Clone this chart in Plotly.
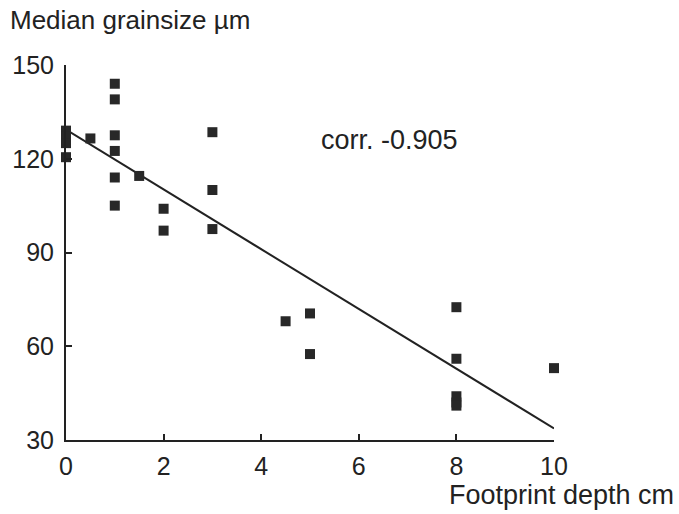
import plotly.graph_objects as go

# Footprint depth (cm) and median grain size (µm) of the sampled prints
depth_cm = [0, 0, 0, 0, 0.5, 1, 1, 1, 1, 1, 1, 1.5, 2, 2, 3, 3, 3,
            4.5, 5, 5, 8, 8, 8, 8, 8, 10]
grainsize_um = [129, 127, 125, 120.5, 126.5, 144, 139, 127.5, 122.5, 114, 105,
                114.5, 104, 97, 128.5, 110, 97.5, 68, 70.5, 57.5,
                72.5, 56, 44, 42, 41, 53]

# Fitted straight line: grainsize = intercept + slope * depth
fit_intercept = 129.3
fit_slope = -9.56
fit_x = [0, 10]
fit_y = [fit_intercept + fit_slope * x for x in fit_x]
corr_label = "corr. -0.905"

x_ticks = [0, 2, 4, 6, 8, 10]
y_ticks = [30, 60, 90, 120, 150]

FONT = "Liberation Sans, Arial, Helvetica, sans-serif"
INK = "#222222"

fig = go.Figure()

fig.add_trace(go.Scatter(
    x=fit_x, y=fit_y, mode="lines",
    line=dict(color=INK, width=2),
    hoverinfo="skip", showlegend=False,
))

fig.add_trace(go.Scatter(
    x=depth_cm, y=grainsize_um, mode="markers",
    marker=dict(symbol="square", size=10, color="#282828",
                line=dict(width=0)),
    cliponaxis=False, showlegend=False,
))

fig.add_annotation(
    x=6.63, y=126, xref="x", yref="y", text=corr_label, showarrow=False,
    font=dict(family=FONT, size=27, color=INK), xanchor="center", yanchor="middle",
)
fig.add_annotation(
    x=-0.119, y=1.12, xref="paper", yref="paper", text="Median grainsize µm",
    showarrow=False, font=dict(family=FONT, size=26, color=INK),
    xanchor="left", yanchor="middle",
)
fig.add_annotation(
    x=0.781, y=-0.147, xref="paper", yref="paper", text="Footprint depth cm",
    showarrow=False, font=dict(family=FONT, size=27, color=INK),
    xanchor="left", yanchor="middle",
)

axis_common = dict(
    showline=True, linecolor=INK, linewidth=2, mirror=False,
    ticks="inside", ticklen=6, tickwidth=2, tickcolor=INK,
    showgrid=False, zeroline=False,
    tickfont=dict(family=FONT, size=25, color=INK),
)

fig.update_xaxes(range=[0, 10], tickvals=x_ticks, ticklabelstandoff=3, **axis_common)
fig.update_yaxes(range=[30, 150], tickvals=y_ticks, ticklabelstandoff=5, **axis_common)

fig.update_layout(
    width=679, height=514,
    margin=dict(l=66, r=125, t=65, b=74),
    paper_bgcolor="white", plot_bgcolor="white",
    font=dict(family=FONT, color=INK),
)

fig.write_html("out.html")
